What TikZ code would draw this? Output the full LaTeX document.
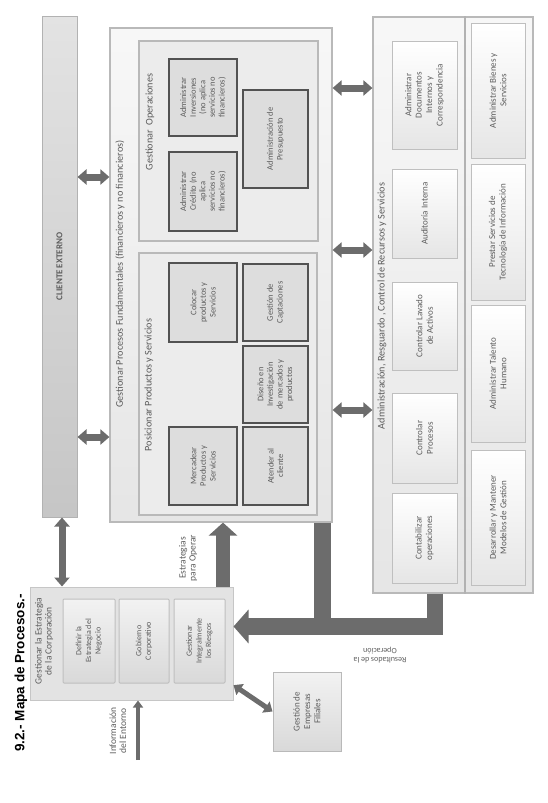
\documentclass[tikz,border=0pt]{standalone}
\usepackage{fontspec}
\setmainfont{Carlito}
\newfontfamily\titlefont{Liberation Sans}
\usetikzlibrary{arrows.meta,calc}
\definecolor{arrowgray}{RGB}{108,108,108}
\definecolor{txt}{RGB}{92,92,92}
\begin{document}
\begin{tikzpicture}[x=1pt,y=-1pt,
  base/.style={rotate=90, inner sep=0pt, align=center, text=txt, font=\fontsize{8.5}{9.6}\selectfont},
  bigbox/.style={base, draw=gray!55, line width=1.2pt, top color=gray!6, bottom color=gray!20},
  midbox/.style={base, draw=gray!55, line width=1.2pt, fill=gray!15},
  darkbox/.style={base, draw=black!68, line width=1.4pt, fill=gray!27},
  lightbox/.style={base, draw=gray!50, line width=1pt, top color=white, bottom color=gray!20, font=\fontsize{9}{10.4}\selectfont},
  estbox/.style={base, draw=gray!50, line width=1pt, top color=gray!10, bottom color=gray!30, rounded corners=1pt, font=\fontsize{8}{9.6}\selectfont},
  lbl/.style={rotate=90, inner sep=0pt, align=center, text=txt, font=\fontsize{10.2}{11}\selectfont},
  smlbl/.style={rotate=90, inner sep=0pt, align=center, text=txt, font=\fontsize{9.5}{10}\selectfont},
  dbl/.style={draw=arrowgray, line width=7pt, {Triangle[width=15pt,length=9pt]}-{Triangle[width=15pt,length=9pt]}},
  dblthin/.style={draw=arrowgray, line width=5pt, {Triangle[width=13pt,length=8pt]}-{Triangle[width=13pt,length=8pt]}},
  bigarrow/.style={draw=arrowgray, line width=14pt, -{Triangle[width=28pt,length=13pt]}},
  thinarrow/.style={draw=arrowgray, line width=4pt, -{Triangle[width=10pt,length=7pt]}},
  resarrow/.style={draw=arrowgray, line width=16.5pt, line join=miter, -{Triangle[width=33pt,length=15pt]}},
  resline/.style={draw=arrowgray, line width=16.5pt, line join=miter}
]
\useasboundingbox (0,0) rectangle (547,803);

% title
\node[rotate=90, inner sep=0pt, font=\titlefont\bfseries\fontsize{13.5}{15}\selectfont] (title) at (21,673) {9.2.- Mapa de Procesos.-};

% cliente externo
\node[base, draw=gray!60, line width=1pt, top color=gray!22, bottom color=gray!45,
      minimum width=501pt, minimum height=35pt, font=\bfseries\fontsize{9}{10}\selectfont] (cliente) at (59.5,266.5) {CLIENTE EXTERNO};

% procesos fundamentales
\node[bigbox, minimum width=494pt, minimum height=222pt] (fund) at (221,275) {};
\node[lbl] (fundlbl) at (120,274) {Gestionar Procesos Fundamentales (financieros y no financieros)};

\node[midbox, minimum width=200pt, minimum height=179pt] (ops) at (228.5,141) {};
\node[lbl] (opslbl) at (150,122) {Gestionar\ \ Operaciones};
\node[darkbox, minimum width=77pt, minimum height=68pt] (inv) at (203,97.5) {Administrar\\ Inversiones\\ (no aplica\\ servicios no\\ financieros)};
\node[darkbox, minimum width=79pt, minimum height=68pt] (cred) at (203,191.5) {Administrar\\ Crédito (no\\ aplica\\ servicios no\\ financieros)};
\node[darkbox, minimum width=98pt, minimum height=65pt] (pres) at (275.5,139) {Administración de\\ Presupuesto};

\node[midbox, minimum width=262pt, minimum height=178pt] (pos) at (228,384) {};
\node[lbl] (poslbl) at (149,385) {Posicionar Productos y Servicios};
\node[darkbox, minimum width=79pt, minimum height=68pt] (col) at (203,302.5) {Colocar\\ productos y\\ Servicios};
\node[darkbox, minimum width=77pt, minimum height=65pt] (cap) at (275.5,302.5) {Gestión de\\ Captaciones};
\node[darkbox, minimum width=77pt, minimum height=65pt] (dis) at (275.5,384.5) {Diseño en\\ Investigación\\ de mercados y\\ productos};
\node[darkbox, minimum width=78pt, minimum height=68pt] (mer) at (203,466) {Mercadear\\ Productos y\\ Servicios};
\node[darkbox, minimum width=78pt, minimum height=65pt] (ate) at (275.5,466) {Atender al\\ cliente};

% administracion
\node[bigbox, minimum width=576pt, minimum height=160pt] (admin) at (453,305) {};
\coordinate (xdiv) at (465,0);
\draw[gray!60, line width=1.5pt] (admin.east -| xdiv) -- (admin.west -| xdiv);
\node[lbl] (adminlbl) at (382,306) {Administración, Resguardo , Control de Recursos y Servicios};
\node[lightbox, minimum width=108pt, minimum height=65pt] (doc) at (424.5,95) {Administrar\\ Documentos\\ Internos y\\ Correspondencia};
\node[lightbox, minimum width=89pt, minimum height=65pt] (aud) at (424.5,213.5) {Auditoría Interna};
\node[lightbox, minimum width=88pt, minimum height=65pt] (lav) at (424.5,326) {Controlar Lavado\\ de Activos};
\node[lightbox, minimum width=90pt, minimum height=65pt] (proc) at (424.5,438) {Controlar\\ Procesos};
\node[lightbox, minimum width=90pt, minimum height=65pt] (cont) at (424.5,538) {Contabilizar\\ operaciones};
\node[lightbox, minimum width=135pt, minimum height=54pt] (bien) at (498,90.5) {Administrar Bienes y\\ Servicios};
\node[lightbox, minimum width=136pt, minimum height=54pt] (tec) at (498,232) {Prestar Servicios de\\ Tecnología de Información};
\node[lightbox, minimum width=137pt, minimum height=54pt] (tal) at (498,373.5) {Administrar Talento\\ Humano};
\node[lightbox, minimum width=135pt, minimum height=54pt] (mod) at (498,517.5) {Desarrollar y Mantener\\ Modelos de Gestión};

% estrategia
\node[base, draw=gray!45, line width=1pt, fill=gray!22, minimum width=113pt, minimum height=203pt] (estr) at (131.5,643.5) {};
\node[smlbl] (estrlbl) at (44,641) {Gestionar la Estrategia\\ de la Corporación};
\node[estbox, minimum width=84pt, minimum height=52pt] (def) at (89,641) {Definir la\\ Estrategia del\\ Negocio};
\node[estbox, minimum width=84pt, minimum height=50pt] (gob) at (144,641) {Gobierno\\ Corporativo};
\node[estbox, minimum width=84pt, minimum height=51pt] (rie) at (199.5,641) {Gestionar\\ Integralmente\\ los Riesgos};

% filiales
\node[base, draw=gray!55, line width=1pt, top color=gray!10, bottom color=gray!30, minimum width=79pt, minimum height=68pt, font=\fontsize{9}{10.4}\selectfont] (fil) at (307,711.5) {Gestión de\\ Empresas\\ Filiales};

% connectors
\coordinate (r177) at (0,177);
\coordinate (r437) at (0,437);
\coordinate (r88) at (0,88);
\coordinate (r250) at (0,250);
\coordinate (r410) at (0,410);
\draw[dbl] (cliente.south |- r177) -- (fund.north |- r177);
\draw[dbl] (cliente.south |- r437) -- (fund.north |- r437);
\draw[dbl] (fund.south |- r88) -- (admin.north |- r88);
\draw[dbl] (fund.south |- r250) -- (admin.north |- r250);
\draw[dbl] (fund.south |- r410) -- (admin.north |- r410);
\coordinate (xcl) at (62,0);
\draw[dbl] (cliente.west -| xcl) -- (estr.east -| xcl);

\coordinate (xop) at (223,0);
\draw[bigarrow] (estr.east -| xop) -- (fund.west -| xop);
\node[smlbl] (oplbl) at (188,558) {Estrategias\\ para Operar};

\coordinate (infoS) at (138,760);
\draw[thinarrow] (infoS) -- (infoS |- estr.west);
\node[smlbl] (infolbl) at (118,731) {Información\\ del Entorno};

\coordinate (xr1) at (322.5,0);
\coordinate (xr2) at (435,0);
\coordinate (yres) at (0,626.5);
\draw[resline] (admin.west -| xr2) |- (xr1 |- yres);
\draw[resarrow] (fund.west -| xr1) |- (estr.south |- yres);
\node[rotate=180, inner sep=0pt, align=center, text=txt, font=\fontsize{8}{9.3}\selectfont] (reslbl) at (380,655) {Resultados de la\\ Operación};

\draw[dblthin] ($(estr.south)!0.73!(estr.south west)$) -- (fil.north);
\end{tikzpicture}
\end{document}
